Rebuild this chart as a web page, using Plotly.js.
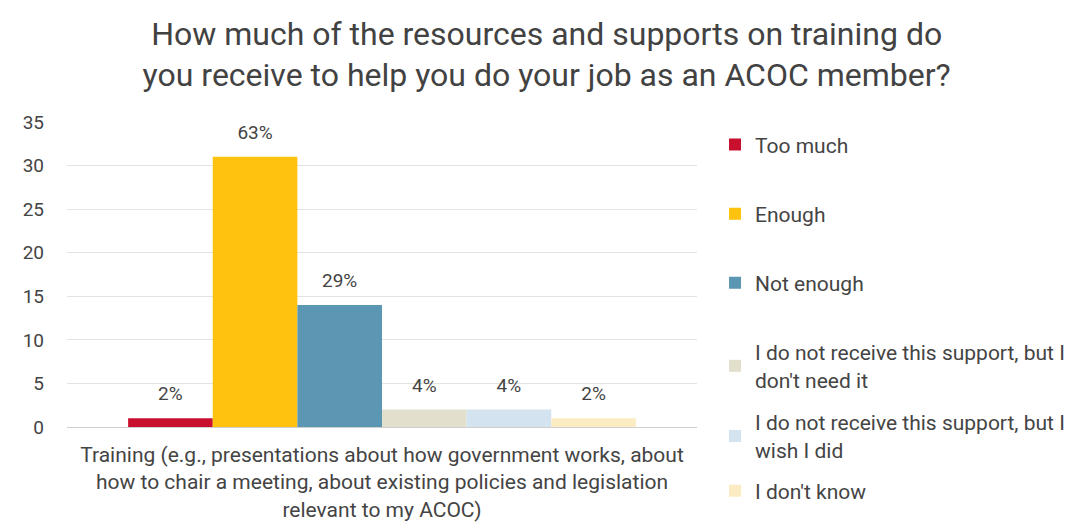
<!DOCTYPE html>
<html>
<head>
<meta charset="utf-8">
<script src="https://cdn.plot.ly/plotly-3.0.1.min.js"></script>
<style>html,body{margin:0;padding:0;background:#fff;}#chart{width:1074px;height:525px;}</style>
</head>
<body>
<div id="chart"></div>
<script>
const category = ["Training (e.g., presentations about how government works, about<br>how to chair a meeting, about existing policies and legislation<br>relevant to my ACOC)"];
const seriesNames = [
  "Too much",
  "Enough",
  "Not enough",
  "I do not receive this support, but I<br>don't need it",
  "I do not receive this support, but I<br>wish I did",
  "I don't know"
];
const seriesValues = [1, 31, 14, 2, 2, 1];
const seriesLabels = ["2%", "63%", "29%", "4%", "4%", "2%"];
const seriesColors = ["#c8102e", "#ffc20e", "#5b96b3", "#e2dfcc", "#d3e3f0", "#fcecc4"];
const legendY = [0.925, 0.698, 0.472, 0.2, -0.03, -0.21];

const font = "Roboto, 'Noto Sans', sans-serif";
const traces = seriesNames.map((n, i) => ({
  type: "bar",
  name: n,
  x: category,
  y: [seriesValues[i]],
  text: ["<span style='font-size:19px'>" + seriesLabels[i] + "</span><br> "],
  textposition: "outside",
  cliponaxis: false,
  textfont: {family: font, size: 10, color: "#444"},
  marker: {color: seriesColors[i]},
  legend: i === 0 ? "legend" : "legend" + (i + 1),
  hoverinfo: "name+y"
}));

const layout = {
  width: 1074, height: 525,
  paper_bgcolor: "#fff", plot_bgcolor: "#fff",
  font: {family: font, color: "#444", size: 16},
  title: {
    text: "How much of the resources and supports on training do<br>you receive to help you do your job as an ACOC member?",
    font: {family: font, size: 32, color: "#424242"},
    x: 0.509, xanchor: "center", y: 0.915, yanchor: "top"
  },
  margin: {l: 67, r: 377, t: 122, b: 98, autoexpand: false},
  barmode: "group",
  bargap: 0.194,
  bargroupgap: 0,
  xaxis: {
    showgrid: false, showline: false, ticks: "",
    ticklabelstandoff: 13,
    tickfont: {family: font, size: 21, color: "#444"}
  },
  yaxis: {
    range: [0, 35], dtick: 5, tick0: 0,
    gridcolor: "#e3e3e3", zeroline: true, zerolinecolor: "#cfcfcf",
    showline: false, ticks: "",
    ticklabelstandoff: 22,
    tickfont: {family: font, size: 19, color: "#444"}
  },
  showlegend: true
};
legendY.forEach((y, i) => {
  const key = i === 0 ? "legend" : "legend" + (i + 1);
  layout[key] = {
    x: 1.0286, xanchor: "left", y: y, yanchor: "middle",
    font: {family: font, size: 21, color: "#444"},
    bgcolor: "rgba(0,0,0,0)", borderwidth: 0, itemclick: false
  };
});

Plotly.newPlot("chart", traces, layout, {displayModeBar: false, staticPlot: true});
</script>
</body>
</html>
